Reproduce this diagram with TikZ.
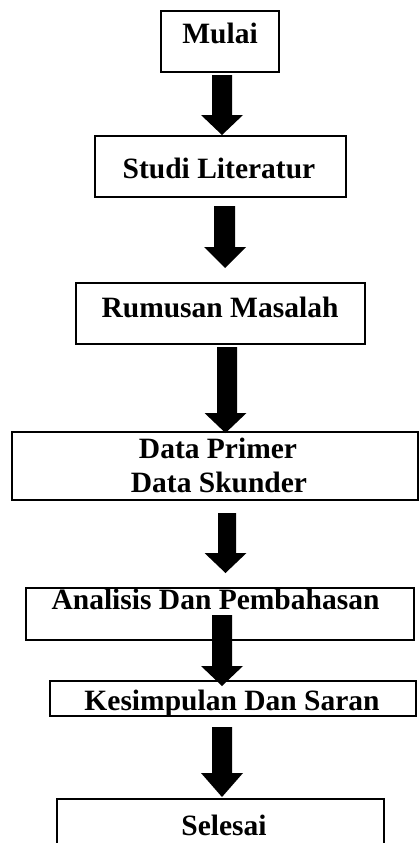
\documentclass[tikz,border=0pt]{standalone}
\usepackage{fontspec}
\setmainfont{Liberation Serif}
\newcommand\blockarr[6]{% shaft-centre x, shaft top, head start, tip, head-centre x, shaft half width
  \fill[black] ({#1-#6},#2) -- ({#1+#6},#2) -- ({#1+#6},#3) -- ({#5+21},#3) -- (#5,#4)
    -- ({#5-21},#3) -- ({#1-#6},#3) -- cycle;}
\begin{document}
\begin{tikzpicture}[x=1pt,y=-1pt,
  box/.style={draw=black,line width=2.2pt,rectangle,inner sep=0pt,outer sep=0pt,fill=white},
  lbl/.style={anchor=base,inner sep=0pt,font=\fontsize{29.5}{34}\selectfont\bfseries}]
\useasboundingbox (0,0) rectangle (419,843);
\fill[white] (0,0) rectangle (419,843);
% boxes
\node[box,minimum width=118pt,minimum height=61pt] (b1) at (220,41.5) {};
\node[box,minimum width=251pt,minimum height=61pt] (b2) at (220.5,166.5) {};
\node[box,minimum width=289pt,minimum height=61pt] (b3) at (220.5,313.5) {};
\node[box,minimum width=406pt,minimum height=68pt] (b4) at (215,466) {};
\node[box,minimum width=388pt,minimum height=52pt] (b5) at (220,614) {};
\node[box,minimum width=366pt,minimum height=35pt] (b6) at (233,698.5) {};
\node[box,minimum width=327pt,minimum height=61pt] (b7) at (220.5,829.5) {};
% labels
\node[lbl] (t1) at (220,44) {Mulai};
\node[lbl] (t2) at (219,178) {Studi Literatur};
\node[lbl] (t3) at (220,317.5) {Rumusan Masalah};
\node[lbl] (t4a) at (218,458) {Data Primer};
\node[lbl] (t4b) at (219,492) {Data Skunder};
\node[lbl] (t5) at (215.5,609) {Analisis Dan Pembahasan};
\node[lbl] (t6) at (232,710) {Kesimpulan Dan Saran};
\node[lbl] (t7) at (224,835) {Selesai};
% block arrows
\blockarr{222}{75}{115}{135}{222}{10}
\blockarr{224.5}{206}{247}{268}{225}{10.5}
\blockarr{227}{347}{413}{433}{225.5}{10}
\blockarr{227}{513}{553}{573}{225.5}{9}
\blockarr{222}{615}{666}{686}{222}{10}
\blockarr{222}{727}{773}{797}{222}{10}
\end{tikzpicture}
\end{document}
